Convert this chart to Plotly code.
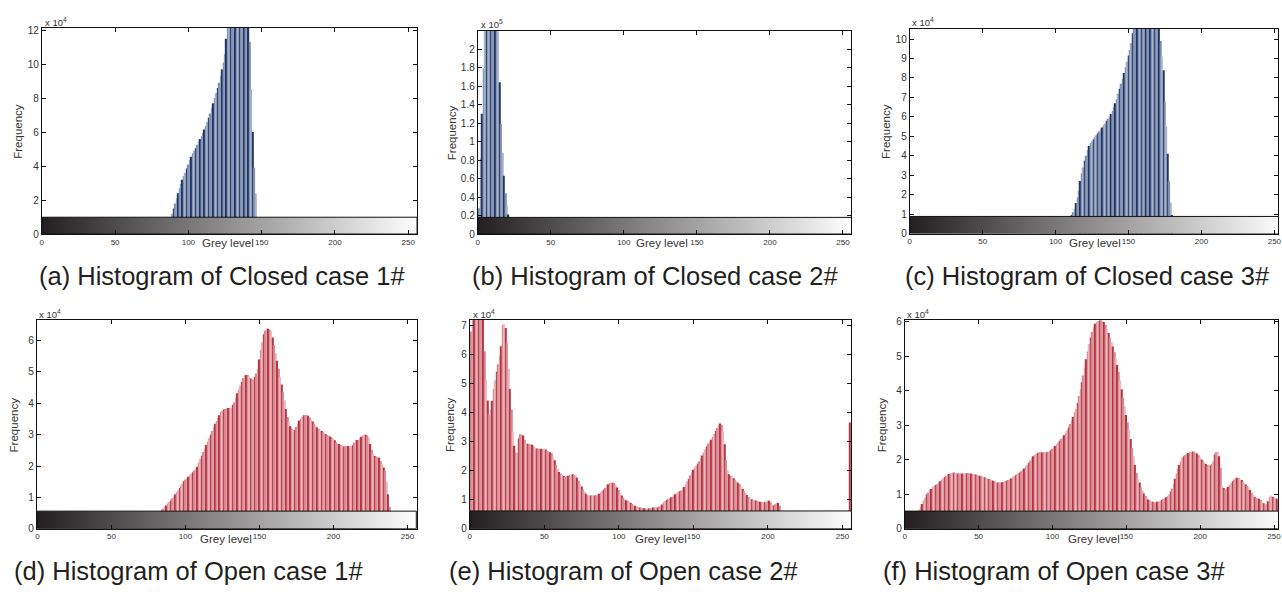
import plotly.graph_objects as go

W, H = 1282, 592

# ---------------- data ----------------
# grey levels start index + frequencies (in units of the axis multiplier)
closed1_start = 89          # x 10^4
closed1_freq = [1.2, 1.5, 1.8, 2.1, 2.4, 2.7, 2.95, 3.2, 3.4, 3.6,
                3.85, 4.1, 4.35, 4.55, 4.75, 4.9, 5.05, 5.25, 5.45, 5.6,
                5.75, 5.95, 6.15, 6.35, 6.6, 6.85, 7.1, 7.4, 7.7, 8.0,
                8.3, 8.6, 8.9, 9.3, 9.7, 10.1, 10.6, 11.5, 12.6, 13.2,
                13.6, 14.0, 14.2, 14.4, 14.5, 14.4, 14.3, 14.1, 13.9, 13.6,
                13.3, 12.9, 12.5, 11.3, 8.5, 6.0, 3.9, 2.4, 0.9]

closed2_start = 0           # x 10^5
closed2_freq = [0.12, 0.28, 0.82, 1.3, 1.79, 2.5, 2.9, 3.3, 3.6, 3.7,
                3.6, 3.3, 2.9, 2.6, 2.3, 1.64, 1.19, 0.88, 0.63, 0.44,
                0.31, 0.21]

closed3_start = 111         # x 10^4
closed3_freq = [0.95, 1.1, 1.26, 1.57, 1.85, 2.2, 2.7, 3.1, 3.4, 3.75,
                4.0, 4.3, 4.5, 4.65, 4.75, 4.85, 4.95, 5.05, 5.15, 5.25,
                5.35, 5.45, 5.55, 5.65, 5.8, 5.9, 6.0, 6.15, 6.3, 6.5,
                6.7, 6.9, 7.2, 7.45, 7.7, 7.95, 8.25, 8.55, 8.85, 9.15,
                9.45, 9.8, 10.3, 10.8, 11.2, 11.5, 11.8, 12.0, 12.2, 12.3,
                12.4, 12.5, 12.5, 12.4, 12.3, 12.2, 12.0, 11.8, 11.5, 11.2,
                10.8, 9.9, 9.1, 8.4, 6.8, 5.5, 4.1, 2.7, 1.6, 0.95]

open1_start = 84            # x 10^4
open1_freq = [0.59, 0.64, 0.69, 0.74, 0.8, 0.85, 0.9, 0.97, 1.03, 1.1,
              1.16, 1.23, 1.3, 1.37, 1.44, 1.51, 1.57, 1.61, 1.66, 1.7,
              1.75, 1.8, 1.86, 1.92, 1.98, 2.1, 2.22, 2.33, 2.45, 2.56,
              2.67, 2.78, 2.9, 3.0, 3.12, 3.24, 3.35, 3.44, 3.53, 3.62,
              3.72, 3.76, 3.8, 3.82, 3.84, 3.85, 3.85, 3.86, 3.95, 4.03,
              4.18, 4.32, 4.44, 4.56, 4.68, 4.8, 4.88, 4.9, 4.9, 4.85,
              4.79, 4.77, 4.77, 4.85, 4.95, 5.1, 5.4, 5.7, 5.95, 6.2,
              6.32, 6.39, 6.38, 6.35, 6.3, 6.1, 5.86, 5.6, 5.36, 5.1,
              4.85, 4.6, 4.35, 4.1, 3.82, 3.56, 3.4, 3.27, 3.2, 3.15,
              3.15, 3.25, 3.35, 3.45, 3.51, 3.57, 3.62, 3.63, 3.64, 3.6,
              3.55, 3.48, 3.42, 3.36, 3.29, 3.23, 3.19, 3.16, 3.12, 3.08,
              3.04, 3.01, 2.99, 2.96, 2.94, 2.91, 2.87, 2.82, 2.76, 2.72,
              2.7, 2.68, 2.65, 2.62, 2.63, 2.65, 2.64, 2.62, 2.63, 2.66,
              2.75, 2.83, 2.83, 2.83, 2.88, 2.93, 2.97, 3.0, 3.0, 2.97,
              2.92, 2.7, 2.52, 2.4, 2.32, 2.3, 2.28, 2.26, 2.15, 2.05,
              1.95, 1.84, 1.5, 1.1, 0.7, 0.3]

open2_start = 0             # x 10^4
open2_freq = [6.5, 6.78, 7.5, 8.0, 8.5, 8.8, 9.0, 8.8, 8.2, 7.4,
              6.1, 5.14, 4.41, 3.92, 4.1, 4.4, 4.8, 5.1, 5.4, 5.65,
              5.93, 6.27, 7.0, 7.05, 6.9, 6.4, 5.5, 4.8, 4.1, 3.34,
              2.85, 2.62, 2.6, 3.1, 3.25, 3.25, 3.2, 3.05, 2.94, 2.92,
              2.91, 2.9, 2.89, 2.83, 2.77, 2.76, 2.75, 2.75, 2.75, 2.74,
              2.73, 2.72, 2.69, 2.66, 2.63, 2.6, 2.45, 2.35, 2.2, 2.05,
              1.95, 1.9, 1.86, 1.81, 1.78, 1.8, 1.82, 1.85, 1.87, 1.87,
              1.85, 1.83, 1.75, 1.65, 1.55, 1.45, 1.36, 1.27, 1.2, 1.15,
              1.14, 1.14, 1.14, 1.14, 1.14, 1.15, 1.17, 1.2, 1.24, 1.3,
              1.34, 1.4, 1.46, 1.53, 1.57, 1.59, 1.58, 1.57, 1.5, 1.42,
              1.33, 1.23, 1.14, 1.06, 1.0, 0.98, 0.96, 0.93, 0.89, 0.86,
              0.82, 0.79, 0.76, 0.74, 0.73, 0.72, 0.71, 0.7, 0.69, 0.69,
              0.7, 0.71, 0.72, 0.73, 0.74, 0.74, 0.74, 0.76, 0.79, 0.83,
              0.9, 0.95, 0.99, 1.03, 1.05, 1.08, 1.1, 1.14, 1.18, 1.21,
              1.25, 1.29, 1.31, 1.37, 1.43, 1.52, 1.63, 1.72, 1.83, 1.93,
              2.03, 2.1, 2.16, 2.23, 2.32, 2.42, 2.52, 2.61, 2.72, 2.83,
              2.93, 3.0, 3.06, 3.16, 3.26, 3.36, 3.46, 3.55, 3.62, 3.57,
              3.35, 2.9, 2.35, 2.0, 1.87, 1.82, 1.77, 1.73, 1.68, 1.63,
              1.58, 1.53, 1.45, 1.37, 1.3, 1.23, 1.16, 1.09, 1.05, 1.01,
              0.99, 0.98, 0.97, 0.96, 0.94, 0.93, 0.92, 0.91, 0.91, 0.93,
              0.97, 0.96, 0.9, 0.82, 0.8, 0.84, 0.9, 0.88, 0.78, 0.62]
open2_extra_levels = [255]
open2_extra_freq = [3.65]

open3_start = 10            # x 10^4
open3_freq = [0.55, 0.64, 0.72, 0.82, 0.9, 0.99, 1.05, 1.1, 1.15, 1.2,
              1.24, 1.27, 1.29, 1.34, 1.38, 1.42, 1.46, 1.5, 1.54, 1.57,
              1.59, 1.61, 1.62, 1.63, 1.62, 1.6, 1.6, 1.6, 1.6, 1.6,
              1.6, 1.6, 1.61, 1.61, 1.6, 1.6, 1.59, 1.58, 1.57, 1.56,
              1.55, 1.54, 1.52, 1.51, 1.49, 1.47, 1.45, 1.44, 1.42, 1.41,
              1.39, 1.37, 1.35, 1.34, 1.34, 1.34, 1.35, 1.36, 1.38, 1.39,
              1.41, 1.43, 1.46, 1.49, 1.52, 1.55, 1.58, 1.6, 1.63, 1.67,
              1.71, 1.75, 1.8, 1.85, 1.91, 1.97, 2.04, 2.1, 2.14, 2.17,
              2.2, 2.22, 2.22, 2.22, 2.22, 2.22, 2.22, 2.23, 2.25, 2.28,
              2.32, 2.36, 2.4, 2.45, 2.5, 2.55, 2.6, 2.66, 2.71, 2.77,
              2.85, 2.94, 3.04, 3.14, 3.24, 3.38, 3.48, 3.65, 3.85, 4.05,
              4.25, 4.45, 4.68, 4.92, 5.14, 5.36, 5.55, 5.72, 5.85, 5.95,
              6.0, 6.03, 6.05, 6.05, 6.02, 6.0, 5.91, 5.81, 5.68, 5.55,
              5.42, 5.29, 5.12, 4.95, 4.75, 4.55, 4.3, 4.05, 3.8, 3.55,
              3.3, 3.08, 2.86, 2.6, 2.35, 2.1, 1.85, 1.62, 1.45, 1.34,
              1.2, 1.1, 1.02, 0.95, 0.9, 0.85, 0.82, 0.8, 0.78, 0.77,
              0.77, 0.78, 0.79, 0.8, 0.83, 0.86, 0.88, 0.91, 0.95, 1.0,
              1.08, 1.17, 1.3, 1.45, 1.6, 1.73, 1.85, 1.95, 2.05, 2.1,
              2.14, 2.17, 2.2, 2.22, 2.23, 2.24, 2.23, 2.22, 2.18, 2.13,
              2.07, 2.01, 1.96, 1.92, 1.88, 1.85, 1.82, 1.84, 1.88, 1.95,
              2.15, 2.22, 2.24, 2.1, 1.77, 1.25, 1.18, 1.15, 1.18, 1.22,
              1.26, 1.32, 1.38, 1.43, 1.48, 1.48, 1.47, 1.44, 1.41, 1.37,
              1.32, 1.28, 1.24, 1.2, 1.12, 1.04, 0.98, 0.93, 0.9, 0.88,
              0.87, 0.84, 0.78, 0.74, 0.7, 0.72, 0.8, 0.93, 0.96, 0.93,
              0.91, 0.89, 0.87]

x_ticks = [0, 50, 100, 150, 200, 250]
captions = ["(a) Histogram of Closed case 1#", "(b) Histogram of Closed case 2#",
            "(c) Histogram of Closed case 3#", "(d) Histogram of Open case 1#",
            "(e) Histogram of Open case 2#", "(f) Histogram of Open case 3#"]
exponents = ["4", "5", "4", "4", "4", "4"]

y_ticks = [[0, 2, 4, 6, 8, 10, 12],
           [0, 0.2, 0.4, 0.6, 0.8, 1, 1.2, 1.4, 1.6, 1.8, 2],
           [0, 1, 2, 3, 4, 5, 6, 7, 8, 9, 10],
           [0, 1, 2, 3, 4, 5, 6],
           [0, 1, 2, 3, 4, 5, 6, 7],
           [0, 1, 2, 3, 4, 5, 6]]
y_ticktext = [["0", "2", "4", "6", "8", "10", "12"],
              ["0", "0.2", "0.4", "0.6", "0.8", "1", "1.2", "1.4", "1.6", "1.8", "2"],
              [str(v) for v in range(11)],
              [str(v) for v in range(7)],
              [str(v) for v in range(8)],
              [str(v) for v in range(7)]]

# ---------------- styles / positions ----------------
BLUE = ("#1f3566", "#7c8dae", "#a7b3c9")
RED = ("#b63442", "#d6868f", "#eab6bb")

panels = [
    dict(levels=list(range(closed1_start, closed1_start + len(closed1_freq))), freq=closed1_freq,
         px=(40, 417), py=(24, 234), xr=[0, 256], yr=[0, 12.15], bar=0.99, pal=BLUE,
         exp_xy=(41, 18), freq_x=16, grey_xy=(227, 243), cap_x=35, cap_y=277),
    dict(levels=list(range(closed2_start, closed2_start + len(closed2_freq))), freq=closed2_freq,
         px=(478, 853), py=(27, 234), xr=[0, 255.5], yr=[0, 2.2], bar=0.18, pal=BLUE,
         exp_xy=(479, 20), freq_x=452, grey_xy=(663, 243), cap_x=470, cap_y=277),
    dict(levels=list(range(closed3_start, closed3_start + len(closed3_freq))), freq=closed3_freq,
         px=(912, 1282), py=(25, 233.5), xr=[0, 252.5], yr=[0, 10.54], bar=0.88, pal=BLUE,
         exp_xy=(912, 18), freq_x=888, grey_xy=(1098, 243), cap_x=905, cap_y=277),
    dict(levels=list(range(open1_start, open1_start + len(open1_freq))), freq=open1_freq,
         px=(35, 417), py=(321.7, 533.7), xr=[-0.5, 256.5], yr=[0, 6.65], bar=0.56, pal=RED,
         exp_xy=(35, 315), freq_x=13, grey_xy=(225, 544), cap_x=10, cap_y=577),
    dict(levels=list(range(open2_start, open2_start + len(open2_freq))) + open2_extra_levels,
         freq=open2_freq + open2_extra_freq,
         px=(470, 853), py=(321, 533.7), xr=[0, 255.7], yr=[0, 7.19], bar=0.61, pal=RED,
         exp_xy=(471, 315), freq_x=450, grey_xy=(662, 544), cap_x=447, cap_y=577),
    dict(levels=list(range(open3_start, open3_start + len(open3_freq))), freq=open3_freq,
         px=(907, 1282), py=(321.7, 533.7), xr=[0, 252.7], yr=[0, 6.05], bar=0.51, pal=RED,
         exp_xy=(907, 315), freq_x=885, grey_xy=(1097, 544), cap_x=883, cap_y=577),
]

FONT = "Liberation Sans, Arial, Helvetica, sans-serif"
TXT = "#231f20"

fig = go.Figure()
layout = dict(width=W, height=H, margin=dict(l=0, r=0, t=0, b=0),
              paper_bgcolor="white", plot_bgcolor="white", showlegend=False,
              font=dict(family=FONT, color=TXT))
annotations = []

for k, p in enumerate(panels):
    i = k + 1
    xa = "x" if i == 1 else f"x{i}"
    ya = "y" if i == 1 else f"y{i}"
    dark, mid, light = p["pal"]
    colors = [dark if g % 3 == 0 else (mid if g % 3 == 1 else light) for g in p["levels"]]
    fig.add_trace(go.Bar(x=p["levels"], y=p["freq"], width=1.0,
                         marker=dict(color=colors, line=dict(width=0)),
                         xaxis=xa, yaxis=ya, hoverinfo="skip"))
    t = p["bar"]
    fig.add_trace(go.Scatter(x=[0, 256, 256, 0, 0], y=[0, 0, t, t, 0], mode="lines",
                             fill="toself",
                             fillgradient=dict(type="horizontal", start=0, stop=256,
                                               colorscale=[[0, "#231f20"], [1, "#ffffff"]]),
                             line=dict(color="#111111", width=1),
                             xaxis=xa, yaxis=ya, hoverinfo="skip"))

    x0, x1 = p["px"]
    y0, y1 = p["py"]
    layout["xaxis" if i == 1 else f"xaxis{i}"] = dict(
        domain=[x0 / W, x1 / W], range=p["xr"], anchor=ya,
        tickvals=x_ticks, ticks="inside", ticklen=4, tickcolor="#111",
        showline=True, linecolor="#111", linewidth=1, mirror="ticks",
        showgrid=False, zeroline=False, fixedrange=True, ticklabeloverflow="allow",
        tickfont=dict(size=8, color="#333", family=FONT))
    layout["yaxis" if i == 1 else f"yaxis{i}"] = dict(
        domain=[1 - y1 / H, 1 - y0 / H], range=p["yr"], anchor=xa,
        tickvals=y_ticks[k], ticktext=y_ticktext[k],
        ticks="inside", ticklen=4, tickcolor="#111",
        showline=True, linecolor="#111", linewidth=1, mirror="ticks",
        showgrid=False, zeroline=False, fixedrange=True,
        tickfont=dict(size=10, color="#333", family=FONT))

    ex, ey = p["exp_xy"]
    annotations.append(dict(text=f"x 10<sup>{exponents[k]}</sup>", x=ex / W, y=1 - ey / H,
                            xref="paper", yref="paper", xanchor="left", yanchor="middle",
                            showarrow=False, font=dict(size=9.5, color="#333", family=FONT)))
    annotations.append(dict(text="Frequency", x=p["freq_x"] / W, y=1 - ((y0 + y1) / 2) / H,
                            xref="paper", yref="paper", xanchor="center", yanchor="middle",
                            textangle=-90, showarrow=False,
                            font=dict(size=11.5, color="#333", family=FONT)))
    gx, gy = p["grey_xy"]
    annotations.append(dict(text="Grey level", x=gx / W, y=1 - gy / H,
                            xref="paper", yref="paper", xanchor="center", yanchor="middle",
                            showarrow=False, font=dict(size=11.5, color="#333", family=FONT)))
    annotations.append(dict(text=captions[k], x=p["cap_x"] / W, y=1 - p["cap_y"] / H,
                            xref="paper", yref="paper", xanchor="left", yanchor="middle",
                            showarrow=False, font=dict(size=25.5, color=TXT, family=FONT)))

layout["annotations"] = annotations
fig.update_layout(**layout)
fig.write_html("out.html")
